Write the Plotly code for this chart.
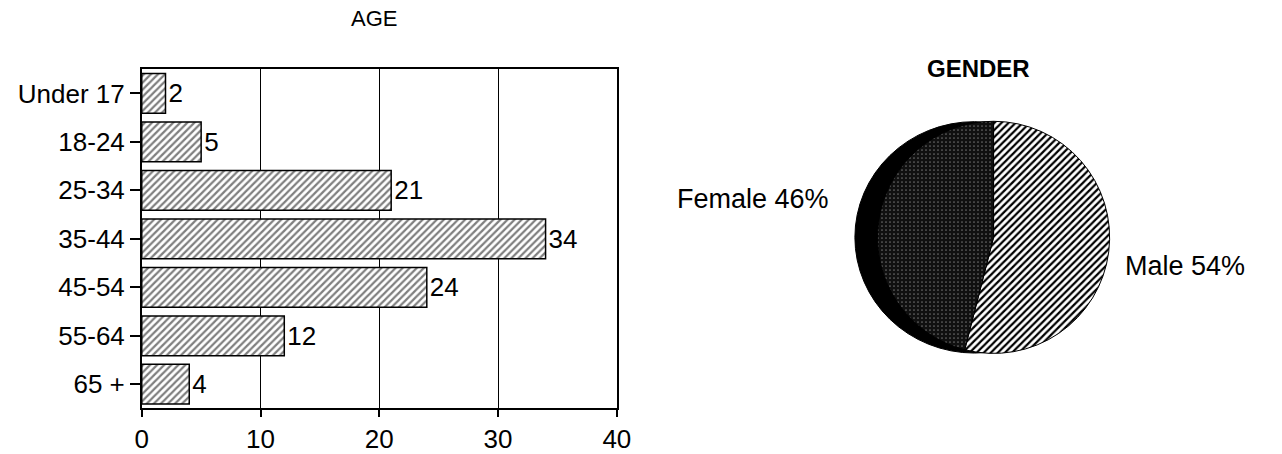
import plotly.graph_objects as go

# Age distribution (percent of respondents)
age_groups = ["Under 17", "18-24", "25-34", "35-44", "45-54", "55-64", "65 +"]
age_pct = [2, 5, 21, 34, 24, 12, 4]
age_ticks = [0, 10, 20, 30, 40]

# Gender split (percent)
genders = ["Male", "Female"]
gender_pct = [54, 46]

W, H = 1282, 454
FONT = "Liberation Sans, Arial, Helvetica, sans-serif"


def px_x(x):
    return x / W


def px_y(y):
    return 1 - y / H


fig = go.Figure()

fig.add_trace(go.Bar(
    x=age_pct,
    y=age_groups,
    orientation="h",
    width=0.82,
    marker=dict(
        color="white",
        line=dict(color="black", width=1.5),
        pattern=dict(shape="/", fgcolor="black", bgcolor="white",
                     size=5, solidity=0.45),
    ),
    text=[str(v) for v in age_pct],
    textposition="outside",
    textfont=dict(family=FONT, size=26, color="black"),
    cliponaxis=False,
    xaxis="x", yaxis="y",
    showlegend=False,
))

fig.add_trace(go.Pie(
    labels=genders,
    values=gender_pct,
    sort=False,
    direction="clockwise",
    rotation=0,
    textinfo="none",
    hole=0,
    marker=dict(
        colors=["white", "#1a1a1a"],
        line=dict(color="black", width=1),
        pattern=dict(
            shape=["/", "."],
            fgcolor=["black", "#6a6a6a"],
            bgcolor=["white", "#101010"],
            size=[5, 4],
            solidity=[0.45, 0.15],
        ),
    ),
    domain=dict(x=[px_x(885), px_x(1121)], y=[px_y(358), px_y(122)]),
    showlegend=False,
))

# Dark rim on the left side of the pie (depth edge)
fig.add_shape(
    type="circle", xref="paper", yref="paper",
    x0=px_x(862), x1=px_x(1105), y0=px_y(357), y1=px_y(123),
    fillcolor="black", line=dict(color="black", width=1),
    layer="below",
)

annotations = [
    dict(text="AGE", x=px_x(373), y=px_y(19), font=dict(size=22)),
    dict(text="<b>GENDER</b>", x=px_x(988), y=px_y(69), font=dict(size=24)),
    dict(text=f"{genders[1]} {gender_pct[1]}%", x=px_x(758), y=px_y(201),
         font=dict(size=27)),
    dict(text=f"{genders[0]} {gender_pct[0]}%", x=px_x(1198), y=px_y(269),
         font=dict(size=27)),
]
for a in annotations:
    a.update(xref="paper", yref="paper", showarrow=False,
             xanchor="center", yanchor="middle")
    a["font"].update(family=FONT, color="black")

fig.update_layout(
    width=W, height=H,
    margin=dict(l=0, r=0, t=0, b=0),
    paper_bgcolor="white",
    plot_bgcolor="white",
    font=dict(family=FONT, color="black"),
    annotations=annotations,
    xaxis=dict(
        domain=[px_x(137), px_x(620)],
        range=[0, 40],
        tickvals=age_ticks,
        ticktext=[str(t) for t in age_ticks],
        ticks="outside", ticklen=7, tickwidth=1.5, tickcolor="black",
        tickfont=dict(family=FONT, size=26, color="black"),
        showgrid=True, gridcolor="black", gridwidth=1,
        showline=True, linecolor="black", linewidth=1.5, mirror=True,
        zeroline=False, fixedrange=True,
    ),
    yaxis=dict(
        domain=[px_y(413), px_y(70)],
        autorange="reversed",
        ticks="outside", ticklen=10, tickwidth=1.5, tickcolor="black",
        tickfont=dict(family=FONT, size=26, color="black"),
        showgrid=False,
        showline=True, linecolor="black", linewidth=1.5, mirror=True,
        zeroline=False, fixedrange=True,
    ),
)

fig.write_html("out.html")
